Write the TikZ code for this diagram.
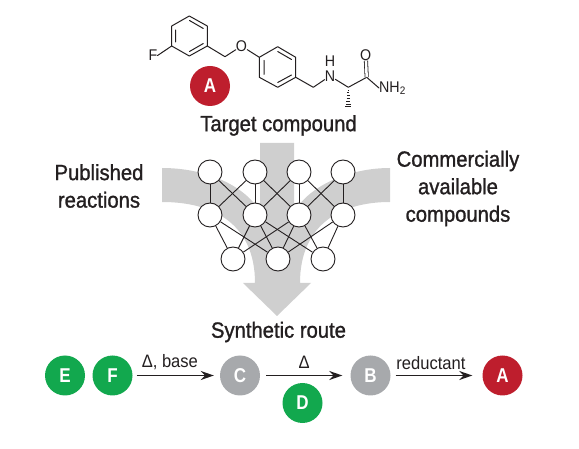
\documentclass[tikz,border=0pt]{standalone}
\usepackage{fontspec}
\setmainfont[FakeStretch=0.92,FakeBold=1.2]{Liberation Sans}
\newfontfamily\atomfont[FakeStretch=0.92]{Liberation Sans}
\newfontfamily\badgefont[FakeStretch=0.85]{Liberation Sans Bold}
\usetikzlibrary{arrows.meta}
\definecolor{flow}{HTML}{CFCFCF}
\definecolor{inkc}{HTML}{231F20}
\definecolor{redc}{HTML}{BE1E2D}
\definecolor{greenc}{HTML}{12A84E}
\definecolor{greyc}{HTML}{A7A9AC}
\tikzset{
 x=1pt,y=-1pt,
 net/.style={circle,draw=inkc,fill=white,line width=0.9pt,minimum size=24pt,inner sep=0pt},
 edge/.style={draw=inkc,line width=0.9pt},
 bond/.style={draw=inkc,line width=1pt,line cap=round,line join=round},
 badge/.style={circle,minimum size=40pt,inner sep=0pt,text=white,font=\fontsize{20}{20}\badgefont},
 lab/.style={text=inkc,font=\fontsize{22}{24}\selectfont,align=center,inner sep=0pt},
 small/.style={text=inkc,font=\fontsize{18}{20}\atomfont,inner sep=0pt},
 atom/.style={text=inkc,font=\fontsize{15.5}{15}\atomfont,inner sep=0pt},
 flowarrow/.style={draw=inkc,line width=1.3pt,-{Stealth[length=13pt,width=9pt]}},
}
\begin{document}
\begin{tikzpicture}
\useasboundingbox (0,0) rectangle (579,449);
% grey flow
\fill[flow] (260,143) -- (294,143) -- (294,212)
  .. controls (310,185) and (350,168) .. (390,168) -- (390,202)
  .. controls (340,202) and (300,225) .. (300,283)
  -- (311,283) -- (277,316) -- (243,283) -- (255,283)
  .. controls (255,225) and (215,202) .. (162,202) -- (162,168)
  .. controls (205,168) and (245,185) .. (260,212) -- cycle;
% network
\foreach \n/\x in {a/210,b/255,c/299,d/343}{\node[net] (t\n) at (\x,172) {};\node[net] (m\n) at (\x,215) {};}
\foreach \n/\x in {a/233,b/278,c/323}{\node[net] (b\n) at (\x,259) {};}
\foreach \p/\q in {ta/ma,ta/mb,tb/ma,tb/mb,tb/mc,tc/mb,tc/mc,tc/md,td/mc,td/md,
 ma/ba,ma/bb,mb/ba,mb/bb,mb/bc,mc/ba,mc/bb,mc/bc,md/bb,md/bc}
 \draw[edge] (\p) -- (\q);
% molecule
\coordinate (r1) at (189.3,16);\coordinate (r2) at (207.3,26);\coordinate (r3) at (207.3,46);
\coordinate (r4) at (189.3,56);\coordinate (r5) at (171.7,46);\coordinate (r6) at (171.7,26);
\draw[bond] (r1)--(r2)--(r3)--(r4)--(r5)--(r6)--cycle;
\draw[bond] (189.5,20.5)--(203.3,28.5) (203.3,43.5)--(189.5,51.5) (175.7,42)--(175.7,30);
\node[atom] (fl) at (153,55.5) {F};
\draw[bond] (r5)--(fl.east);
\coordinate (ch) at (225,56.7);
\node[atom] (ox) at (241.5,46) {O};
\draw[bond] (r3)--(ch)--(ox);
\coordinate (s1) at (259.3,57.3);\coordinate (s2) at (277.7,46.7);\coordinate (s3) at (295.7,57.3);
\coordinate (s4) at (295.7,77.3);\coordinate (s5) at (277.7,87.3);\coordinate (s6) at (259.3,77.3);
\draw[bond] (ox)--(s1);
\draw[bond] (s1)--(s2)--(s3)--(s4)--(s5)--(s6)--cycle;
\draw[bond] (264,60.5)--(264,74.5) (277.7,51.5)--(291.5,59.5) (277.7,82.5)--(291.5,75);
\coordinate (c2) at (313.3,87.3);
\node[atom] (nh) at (330,76) {N};
\node[atom] (hh) at (330,61.5) {H};
\draw[bond] (s4)--(c2)--(nh);
\coordinate (cs) at (348.3,87.3);\coordinate (cc) at (366.7,77.3);
\draw[bond] (nh)--(cs)--(cc);
\node[atom] (oo) at (365.7,55) {O};
\draw[bond,double,double distance=2.5pt,line width=0.8pt,line cap=butt] (oo)--(cc);
\node[atom,anchor=west] (nn) at (379,88) {NH\textsubscript{2}};
\draw[bond] (cc)--(nn.west);
\foreach \i in {0,...,6}{\pgfmathsetmacro\yy{90+\i*2.8}\pgfmathsetmacro\dx{0.5+\i*0.4}
 \draw[inkc,line width=0.7pt] (348.3-\dx,\yy)--(348.3+\dx,\yy);}
% labels
\node[badge,fill=redc] (A1) at (210,86) {A};
\node[lab] (target) at (278.5,125.5) {Target compound};
\node[lab] (pub) at (99,186) {Published\\[3.5pt]reactions};
\node[lab] (com) at (458,188.5) {Commercially\\[3.5pt]available\\[3.5pt]compounds};
\node[lab] (route) at (278.5,332) {Synthetic route};
% route
\node[badge,fill=greenc] (E) at (65,375.5) {E};
\node[badge,fill=greenc] (F) at (112.5,375.5) {F};
\node[badge,fill=greyc] (C) at (240,375.5) {C};
\node[badge,fill=greyc] (B) at (370.5,375.5) {B};
\node[badge,fill=redc] (A2) at (502.5,375.5) {A};
\node[badge,fill=greenc] (D) at (302.5,403) {D};
\draw[flowarrow] (F.east)++(4,0) -- ([xshift=-6pt]C.west) node[pos=0.43,above=5pt,small] (l1) {Δ, base};
\draw[flowarrow] (C.east)++(6,0) -- ([xshift=-8pt]B.west) node[midway,above=6pt,small] (l2) {Δ};
\draw[flowarrow] (B.east)++(5,0) -- ([xshift=-10pt]A2.west) node[pos=0.46,above=5pt,small] (l3) {reductant};
\end{tikzpicture}
\end{document}
